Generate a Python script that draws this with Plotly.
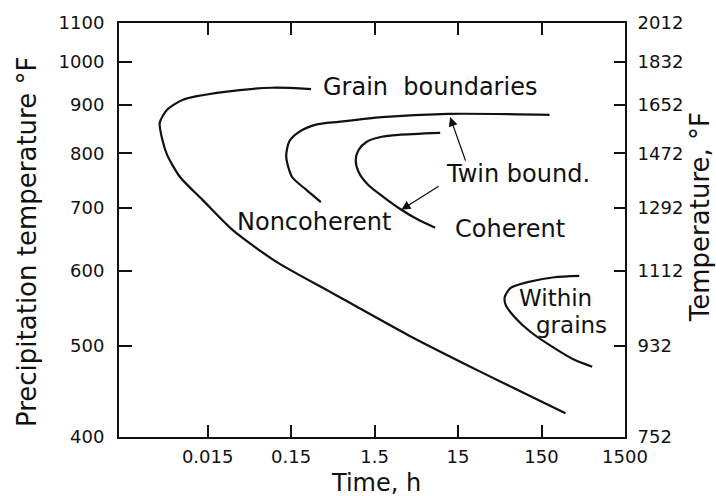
import numpy as np
import plotly.graph_objects as go

# Precipitation C-curves (time in hours, temperature in degrees)
gb_time = [0.26, 0.089, 0.0227, 0.0076, 0.0049, 0.0040, 0.0043, 0.0049, 0.0070,
           0.013, 0.030, 0.099, 0.46, 3.8, 28, 177, 290]
gb_temp = [936, 939, 929, 912, 890, 862, 827, 797, 755,
           714, 663, 614, 569, 513, 469, 433, 424]

nc_time = [187, 11.4, 1.82, 0.558, 0.298, 0.187, 0.142, 0.131, 0.154, 0.227, 0.341]
nc_temp = [879, 881, 874, 864, 858, 843, 823, 793, 755, 732, 710]

co_time = [9.16, 2.90, 1.82, 1.21, 0.968, 0.891, 0.968, 1.27, 1.92, 3.14, 5.01, 7.98]
co_temp = [841, 837, 833, 823, 807, 787, 764, 740, 719, 697, 680, 667]

wg_time = [425, 214, 102, 64.1, 54.4, 55.9, 71.6, 111, 214, 371, 607]
wg_temp = [593, 591, 584, 576, 563, 552, 536, 517, 497, 483, 475]

time_ticks = [0.015, 0.15, 1.5, 15, 150, 1500]
time_labels = ["0.015", "0.15", "1.5", "15", "150", "1500"]
temp_ticks = [400, 500, 600, 700, 800, 900, 1000, 1100]
temp_labels = ["400", "500", "600", "700", "800", "900", "1000", "1100"]
f_labels = ["752", "932", "1112", "1292", "1472", "1652", "1832", "2012"]

FONT = "DejaVu Sans"
INK = "#111111"
L = np.log10

fig = go.Figure()
line = dict(color=INK, width=2.2, shape="spline", smoothing=0.7)
for t, T in [(gb_time, gb_temp), (nc_time, nc_temp), (co_time, co_temp), (wg_time, wg_temp)]:
    fig.add_trace(go.Scatter(x=t, y=T, mode="lines", line=line,
                             showlegend=False, hoverinfo="skip"))

# carrier trace so the right-hand Fahrenheit axis is drawn
fig.add_trace(go.Scatter(x=[time_ticks[0]], y=[temp_ticks[0]], yaxis="y2",
                         mode="markers", opacity=0, showlegend=False, hoverinfo="skip"))

x_range = [L(0.0013), L(1500)]
y_range = [L(400), L(1100)]

tickfont = dict(family=FONT, size=18, color=INK)
fig.update_layout(
    width=716, height=496,
    margin=dict(l=119, r=91, t=23, b=59),
    paper_bgcolor="white", plot_bgcolor="white",
    xaxis=dict(type="log", range=x_range, tickvals=time_ticks, ticktext=time_labels,
               ticks="inside", ticklen=12, tickwidth=1.6, tickcolor=INK,
               showline=True, linewidth=2, linecolor=INK, mirror="ticks",
               showgrid=False, zeroline=False, tickfont=tickfont,
               ticklabelstandoff=2),
    yaxis=dict(type="log", range=y_range, tickvals=temp_ticks, ticktext=temp_labels,
               ticks="inside", ticklen=13, tickwidth=1.6, tickcolor=INK,
               showline=True, linewidth=2, linecolor=INK, mirror=True,
               showgrid=False, zeroline=False, tickfont=tickfont,
               ticklabelstandoff=9),
    yaxis2=dict(type="log", range=y_range, tickvals=temp_ticks, ticktext=f_labels,
                overlaying="y", side="right",
                ticks="inside", ticklen=11, tickwidth=1.6, tickcolor=INK,
                showline=True, linewidth=2, linecolor=INK,
                showgrid=False, zeroline=False, tickfont=tickfont,
                ticklabelstandoff=7),
)

lab = dict(family=FONT, size=24, color=INK)
labels = [
    ("Grain\u00a0\u00a0boundaries", 0.34, 940),
    ("Twin bound.", 10.2, 760),
    ("Noncoherent", 0.0315, 676),
    ("Coherent", 13.1, 665),
]
for text, t, T in labels:
    fig.add_annotation(text=text, x=L(t), y=L(T), xref="x", yref="y",
                       xanchor="left", yanchor="middle", showarrow=False, font=lab)

small = dict(family=FONT, size=23, color=INK)
for text, t, T in [("Within", 77.6, 562), ("grains", 124, 526)]:
    fig.add_annotation(text=text, x=L(t), y=L(T), xref="x", yref="y",
                       xanchor="left", yanchor="middle", showarrow=False,
                       font=small, borderpad=0)

# arrows from the twin-boundary label to its two curves
for tip, tail in [((12.05, 874), (18.7, 783)), ((3.14, 697), (9.16, 740))]:
    fig.add_annotation(x=L(tip[0]), y=L(tip[1]), ax=L(tail[0]), ay=L(tail[1]),
                       xref="x", yref="y", axref="x", ayref="y", text="",
                       showarrow=True, arrowhead=2, arrowsize=1.4, arrowwidth=1.3,
                       arrowcolor=INK)

fig.add_annotation(text="Precipitation temperature \u00b0F", textangle=-90,
                   xref="paper", yref="paper", x=0, y=0.471, xshift=-92,
                   xanchor="center", yanchor="middle", showarrow=False,
                   font=dict(family=FONT, size=26, color=INK))
fig.add_annotation(text="Temperature, \u00b0F", textangle=-90,
                   xref="paper", yref="paper", x=1, y=0.531, xshift=75,
                   xanchor="center", yanchor="middle", showarrow=False,
                   font=dict(family=FONT, size=26, color=INK), borderpad=0)
fig.add_annotation(text="Time, h", xref="paper", yref="paper", x=0.508, y=0,
                   yshift=-46, xanchor="center", yanchor="middle", borderpad=0,
                   showarrow=False, font=dict(family=FONT, size=24, color=INK))

fig.write_html("out.html")
